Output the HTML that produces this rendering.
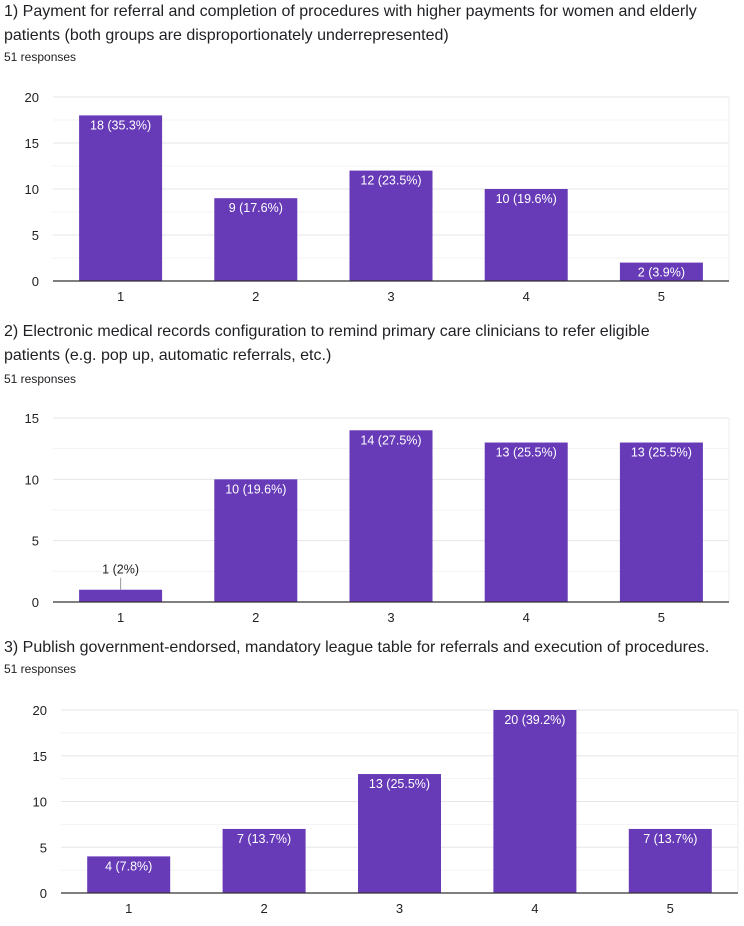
<!DOCTYPE html>
<html><head><meta charset="utf-8">
<style>
body{margin:0;background:#fff;font-family:"Liberation Sans",Arial,sans-serif;color:#202124}
.t{position:absolute;left:4px;font-size:16px;line-height:24px;color:#202124}
.r{position:absolute;left:4px;font-size:12px;color:#202124}
svg{position:absolute;left:0;top:0}
</style></head>
<body>
<div class="t" style="top:0">1) Payment for referral and completion of procedures with higher payments for women and elderly<br>patients (both groups are disproportionately underrepresented)</div>
<div class="r" style="top:50px">51 responses</div>
<div class="t" style="top:320px">2) Electronic medical records configuration to remind primary care clinicians to refer eligible<br>patients (e.g. pop up, automatic referrals, etc.)</div>
<div class="r" style="top:372px">51 responses</div>
<div class="t" style="top:636px">3) Publish government-endorsed, mandatory league table for referrals and execution of procedures.</div>
<div class="r" style="top:662px">51 responses</div>
<svg id="s" width="744" height="926"></svg>
<script>
const categories=["1","2","3","4","5"];
const values1=[18,9,12,10,2];
const labels1=["18 (35.3%)","9 (17.6%)","12 (23.5%)","10 (19.6%)","2 (3.9%)"];
const ticks1=[0,5,10,15,20];
const values2=[1,10,14,13,13];
const labels2=["1 (2%)","10 (19.6%)","14 (27.5%)","13 (25.5%)","13 (25.5%)"];
const ticks2=[0,5,10,15];
const values3=[4,7,13,20,7];
const labels3=["4 (7.8%)","7 (13.7%)","13 (25.5%)","20 (39.2%)","7 (13.7%)"];
const ticks3=[0,5,10,15,20];
const svg=document.getElementById('s');
const NS="http://www.w3.org/2000/svg";
function mk(tag,a,txt){const e=document.createElementNS(NS,tag);for(const k in a)e.setAttribute(k,a[k]);if(txt!==undefined)e.textContent=txt;svg.appendChild(e);return e;}
function chart(id,vals,labs,ticks,L,R,T,B){
 const max=ticks[ticks.length-1];
 const y=v=>B-(v/max)*(B-T);
 const bw=(R-L)/categories.length;
 const x=i=>L+bw*(i+0.5);
 for(let v=0;v<=max;v+=2.5){
  const g=mk('line',{x1:L,x2:R,y1:y(v),y2:y(v),stroke:(v%5===0)?'#e6e6e6':'#f3f3f3','stroke-width':1});
  
  
 }
 const vl=mk('line',{x1:R,x2:R,y1:T,y2:B,stroke:'#eeeeee'});
 
 
 ticks.forEach(t=>{
  const e=mk('text',{x:L-14,y:y(t)+5,'text-anchor':'end','font-size':13,fill:'#222'},String(t));
  
  
 });
 vals.forEach((v,i)=>{
  const w=83;
  const r=mk('rect',{x:x(i)-w/2,y:y(v),width:w,height:B-y(v),fill:'#673ab7'});
  
  
  const inside=(B-y(v))>15;
  if(inside){
   const t=mk('text',{x:x(i),y:y(v)+14,'text-anchor':'middle','font-size':12.5,fill:'#fff'},labs[i]);
   
   
  }else{
   const ln=mk('line',{x1:x(i),x2:x(i),y1:y(v),y2:y(v)-12,stroke:'#999'});
   
   
   const t=mk('text',{x:x(i),y:y(v)-16,'text-anchor':'middle','font-size':12.5,fill:'#222'},labs[i]);
   
   
  }
  const c=mk('text',{x:x(i),y:B+20,'text-anchor':'middle','font-size':13,fill:'#222'},categories[i]);
  
  
 });
 const ax=mk('line',{x1:L,x2:R,y1:B,y2:B,stroke:'#333','stroke-width':1.3});
 
 
}
chart('chart1',values1,labels1,ticks1,53,729,97,281);
chart('chart2',values2,labels2,ticks2,53,729,418,602);
chart('chart3',values3,labels3,ticks3,61,738,710,893);
</script>
</body></html>
